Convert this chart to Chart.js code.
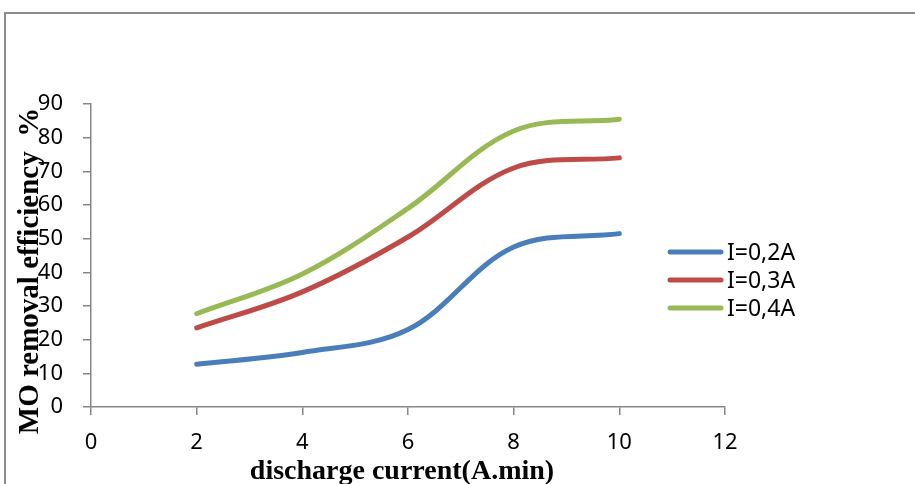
<!DOCTYPE html>
<html>
<head>
<meta charset="utf-8">
<script src="https://cdn.jsdelivr.net/npm/chart.js@4/dist/chart.umd.min.js"></script>
<style>
    html, body { margin: 0; padding: 0; background: #fff; }
    #wrap { position: relative; width: 915px; height: 484px; overflow: hidden; }
    #frame { position: absolute; left: 4px; top: 12px; width: 1000px; height: 1000px;
             border-left: 2px solid #8c8c8c; border-top: 2px solid #8c8c8c; }
    canvas { position: absolute; left: 0; top: 0; }
</style>
</head>
<body>
<div id="wrap">
    <div id="frame"></div>
    <canvas id="removalChart" width="915" height="484"></canvas>
</div>
<script>
// discharge current values on the x axis
const dischargeCurrent = [2, 4, 6, 8, 10];

// removal efficiency (%) for each current
const removalI02 = [12.7, 16.2, 23.0, 47.5, 51.5];
const removalI03 = [23.5, 34.2, 50.5, 71.0, 74.0];
const removalI04 = [27.7, 39.5, 59.0, 82.0, 85.5];

const seriesNames = ['I=0,2A', 'I=0,3A', 'I=0,4A'];
const seriesColors = ['#4a7ebb', '#be4b48', '#98b954'];

const xAxisTitle = 'discharge current(A.min)';
const yAxisTitle = 'MO removal efficiency  %';

function toPoints(values) {
    return dischargeCurrent.map((x, i) => ({ x: x, y: values[i] }));
}

// axis titles and legend are drawn by hand so they can sit where the original puts them
const titlesAndLegend = {
    id: 'titlesAndLegend',
    afterDraw(chart) {
        const ctx = chart.ctx;
        const area = chart.chartArea;

        ctx.save();
        ctx.fillStyle = '#000';
        ctx.font = 'bold 28px "Liberation Serif"';
        ctx.textAlign = 'center';
        ctx.textBaseline = 'alphabetic';
        ctx.fillText(xAxisTitle, (area.left + area.right) / 2 - 6, 479);

        ctx.font = 'bold 29px "Liberation Serif"';
        ctx.translate(38, 271);
        ctx.rotate(-Math.PI / 2);
        ctx.fillText(yAxisTitle, 0, 0);
        ctx.restore();

        // legend
        ctx.save();
        ctx.font = '23px "Noto Sans"';
        ctx.textAlign = 'left';
        ctx.textBaseline = 'middle';
        chart.data.datasets.forEach((ds, i) => {
            const y = 252 + i * 28;
            ctx.strokeStyle = ds.borderColor;
            ctx.lineWidth = 5;
            ctx.lineCap = 'round';
            ctx.beginPath();
            ctx.moveTo(670, y);
            ctx.lineTo(721, y);
            ctx.stroke();
            ctx.fillStyle = '#000';
            ctx.fillText(ds.label, 727, y + 1);
        });
        ctx.restore();
    }
};

const axisColor = '#868686';
const tickFont = { family: 'Noto Sans', size: 22 };

const ctx = document.getElementById('removalChart').getContext('2d');
new Chart(ctx, {
    type: 'line',
    data: {
        datasets: [removalI02, removalI03, removalI04].map((values, i) => ({
            label: seriesNames[i],
            data: toPoints(values),
            borderColor: seriesColors[i],
            backgroundColor: seriesColors[i],
            borderWidth: 5,
            borderCapStyle: 'round',
            pointRadius: 0,
            tension: 0.35,
            fill: false
        }))
    },
    options: {
        responsive: false,
        animation: false,
        layout: { padding: { top: 104, right: 190, left: 0, bottom: 0 } },
        plugins: {
            legend: { display: false },
            tooltip: { enabled: false }
        },
        scales: {
            x: {
                type: 'linear',
                min: 0,
                max: 12,
                afterFit: scale => { scale.height = 77; },
                ticks: { stepSize: 2, color: '#000', font: tickFont, padding: 15, maxRotation: 0 },
                grid: { drawOnChartArea: false, tickLength: 8, color: axisColor, lineWidth: 1.5 },
                border: { color: axisColor, width: 1.5 }
            },
            y: {
                min: 0,
                max: 90,
                afterFit: scale => { scale.width = 91; },
                ticks: { stepSize: 10, color: '#000', font: tickFont, padding: 20 },
                grid: { drawOnChartArea: false, tickLength: 8, color: axisColor, lineWidth: 1.5 },
                border: { color: axisColor, width: 1.5 }
            }
        }
    },
    plugins: [titlesAndLegend]
});
</script>
</body>
</html>
